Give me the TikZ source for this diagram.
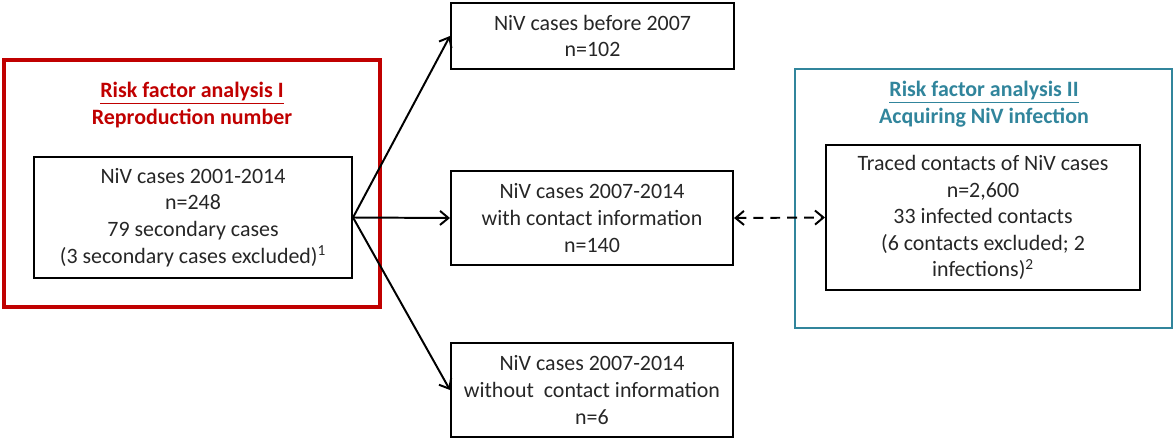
\documentclass[tikz,border=0pt]{standalone}
\usepackage{fontspec}
\setmainfont{Carlito}
\usetikzlibrary{arrows.meta}
\definecolor{rfred}{HTML}{C00000}
\definecolor{rfblue}{HTML}{31859C}
\definecolor{txt}{HTML}{262626}
\begin{document}
\begin{tikzpicture}[x={(0.025cm,0)},y={(0,-0.025cm)},
  every node/.style={font=\fontsize{15.6}{18.9}\selectfont, text=txt, align=center},
  casebox/.style={draw=black, line width=1.4pt, inner sep=0pt},
  groupbox/.style={line width=#1, inner sep=0pt},
  conn/.style={line width=1.4pt, -{Straight Barb[length=6pt,width=10pt,line width=1.4pt]}},
  dconn/.style={line width=1.4pt, dash pattern=on 7pt off 5pt, {Straight Barb[length=6pt,width=10pt,line width=1.4pt]}-{Straight Barb[length=6pt,width=10pt,line width=1.4pt]}},
  rftitle/.style={font=\fontsize{15.6}{18.9}\selectfont\bfseries}
]
\useasboundingbox (0,0) rectangle (1173,440);
% group boxes
\node[groupbox=2.5pt, draw=rfred, minimum width=9.4cm, minimum height=6.175cm] (red) at (192,183.5) {};
\node[groupbox=1.4pt, draw=rfblue, minimum width=9.4cm, minimum height=6.475cm] (blue) at (983.5,198.5) {};
% titles
\node[rftitle, text=rfred] (t1) at (192,105) {\underline{Risk factor analysis I}\\Reproduction number};
\node[rftitle, text=rfblue] (t2) at (984,104) {\underline{Risk factor analysis II}\\Acquiring NiV infection};
% case boxes
\node[casebox, minimum width=7.95cm, minimum height=3.025cm] (all) at (193,217.5)
  {NiV cases 2001-2014\\n=248\\79 secondary cases\\(3 secondary cases excluded)\textsuperscript{1}};
\node[casebox, minimum width=7.075cm, minimum height=1.65cm] (before) at (592.5,36)
  {NiV cases before 2007\\n=102};
\node[casebox, minimum width=7.05cm, minimum height=2.35cm] (with) at (592,218)
  {NiV cases 2007-2014\\with contact information\\n=140};
\node[casebox, minimum width=7.05cm, minimum height=2.35cm] (without) at (592,390)
  {NiV cases 2007-2014\\without\ \ contact information\\n=6};
\node[casebox, minimum width=7.85cm, minimum height=3.625cm] (traced) at (983,217.5)
  {Traced contacts of NiV cases\\n=2,600\\33 infected contacts\\(6 contacts excluded; 2\\infections)\textsuperscript{2}};
% connectors
\draw[conn] (all.east) -- (before.west);
\draw[conn] (all.east) -- (with.west);
\draw[conn] (all.east) -- (without.west);
\draw[dconn] (with.east) -- (traced.west);
\end{tikzpicture}
\end{document}
